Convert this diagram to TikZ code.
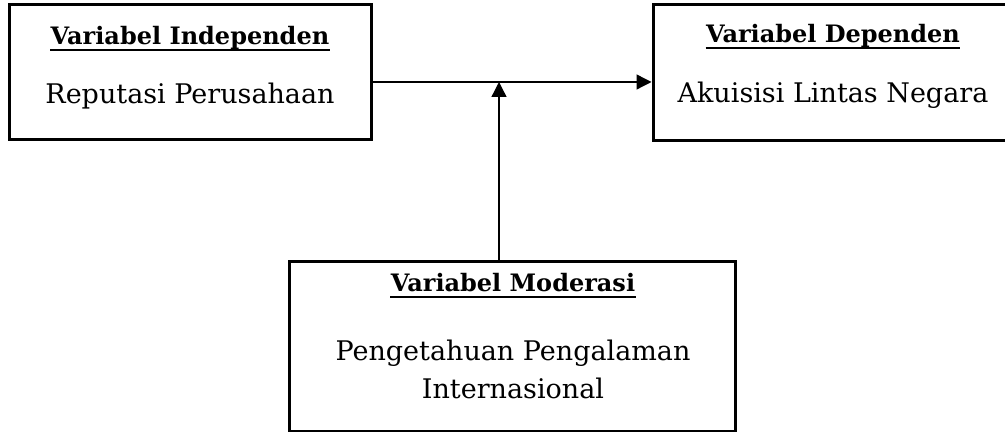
\documentclass[tikz,border=0pt]{standalone}
\usepackage{fontspec}
\setmainfont{DejaVu Serif}
\usetikzlibrary{arrows.meta}
\begin{document}
\begin{tikzpicture}[x=0.5pt,y=-0.5pt,
  box/.style={draw, line width=1.5pt, rectangle, inner sep=0pt},
  ttl/.style={anchor=base, inner sep=0pt, font=\fontsize{12}{14}\selectfont\bfseries},
  txt/.style={anchor=base, inner sep=0pt, font=\fontsize{13.5}{16}\selectfont},
  uline/.style={line width=0.8pt},
  conn/.style={line width=0.65pt, -{Triangle[length=7.5pt,width=7.5pt]}}]
\useasboundingbox (0,0) rectangle (1005,432);
% boxes
\node[box, minimum width=181pt, minimum height=67.5pt] (L) at (190,72.5) {};
\node[box, minimum width=177.5pt, minimum height=68pt] (R) at (830.5,73) {};
\node[box, minimum width=223pt, minimum height=84.5pt] (B) at (512,346.5) {};
% texts
\node[ttl] (Lt) at (190,45) {Variabel Independen};
\node[txt] (Lx) at (190,104) {Reputasi Perusahaan};
\node[ttl] (Rt) at (833,43) {Variabel Dependen};
\node[txt] (Rx) at (833,103) {Akuisisi Lintas Negara};
\node[ttl] (Bt) at (513,292) {Variabel Moderasi};
\node[txt] (Bx1) at (513,360) {Pengetahuan Pengalaman};
\node[txt] (Bx2) at (513,398) {Internasional};
% underlines
\draw[uline] ([yshift=-2.5pt]Lt.base west) -- ([yshift=-2.5pt]Lt.base east);
\draw[uline] ([yshift=-2.5pt]Rt.base west) -- ([yshift=-2.5pt]Rt.base east);
\draw[uline] ([yshift=-2.5pt]Bt.base west) -- ([yshift=-2.5pt]Bt.base east);
% connectors
\coordinate (m) at (499,82);
\draw[conn] (L.east |- m) -- (R.west |- m);
\draw[conn] (B.north -| m) -- (m);
\end{tikzpicture}
\end{document}
